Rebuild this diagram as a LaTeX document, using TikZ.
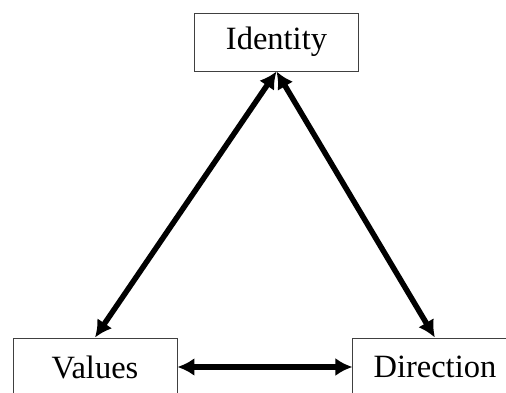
\documentclass[tikz,border=0pt]{standalone}
\usepackage{fontspec}
\setmainfont{Liberation Serif}
\usetikzlibrary{arrows.meta}
\usetikzlibrary{positioning}

\begin{document}
\begin{tikzpicture}[x = 1pt, y = -1pt,
    box/.style = {draw = black!75, line width = 0.9pt, minimum width = 164pt,
      minimum height = 58pt, inner sep = 0pt, font = \fontsize{32.5}{38}\selectfont},
    link/.style = {{Latex[length = 17pt, width = 18pt]}-{Latex[length = 17pt, width = 18pt]},
      line width = 5.5pt}]

    \useasboundingbox (0,0) rectangle (506,393);
    \clip (0,0) rectangle (506,393);

    \node[box] (identity) at (276.5,42) {Identity};
    \node[box] (values) at (95,367) {Values};
    \node[box, right = 175pt of values] (direction) {Direction};

    % arrows between the three boxes
    \draw[link] (identity.south) -- (values.north);
    \draw[link] (identity.south) -- (direction.north);
    \draw[link] (values.east) -- (direction.west);

\end{tikzpicture}
\end{document}
